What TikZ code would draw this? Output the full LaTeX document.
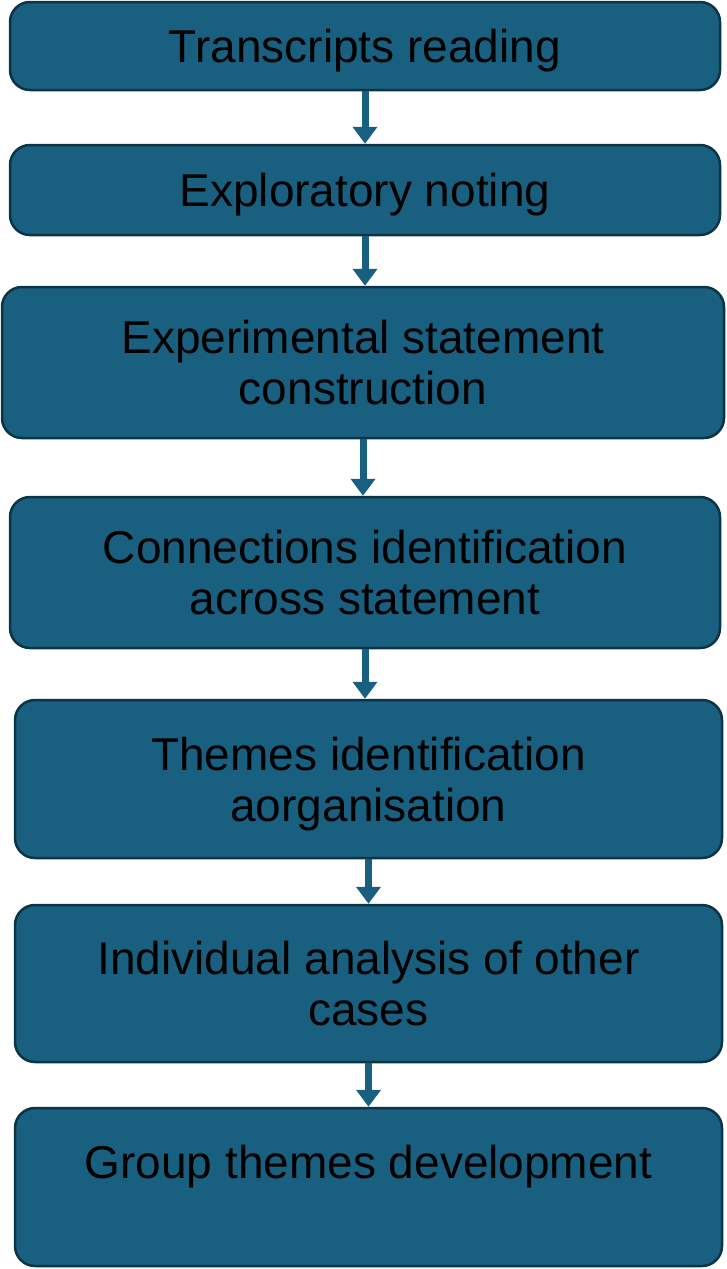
\documentclass[tikz,border=0pt]{standalone}
\usepackage{fontspec}
\setmainfont{Liberation Sans}
\usetikzlibrary{arrows.meta}

\definecolor{stagefill}{RGB}{25,96,128}
\definecolor{stageline}{RGB}{12,52,70}

\begin{document}
\begin{tikzpicture}[x=1pt,y=-1pt,>={Triangle[width=24pt,length=17pt]},
  stage/.style={draw=stageline,line width=2.5pt,fill=stagefill,rounded corners=20pt,
    align=center,text=black,font=\fontsize{46}{51}\selectfont,inner sep=0pt,text depth=0pt},
  flow/.style={->,draw=stagefill,line width=7pt}]
  \useasboundingbox (0,0) rectangle (727,1269);
  \node[stage,minimum width=710pt,minimum height=88pt] (read) at (365,46) {Transcripts reading};
  \node[stage,minimum width=710pt,minimum height=90pt] (note) at (365,190) {Exploratory noting};
  \node[stage,minimum width=722pt,minimum height=151pt] (stmt) at (363,362.5)
    {Experimental statement\\construction};
  \node[stage,minimum width=710pt,minimum height=151pt] (conn) at (365,572.5)
    {Connections identification\\across statement};
  \node[stage,minimum width=707pt,minimum height=158pt] (theme) at (368.5,779)
    {Themes identification\\aorganisation};
  \node[stage,minimum width=707pt,minimum height=157pt] (indiv) at (368.5,983.5)
    {Individual analysis of other\\cases};
  \node[stage,minimum width=707pt,minimum height=158pt] (group) at (368.5,1187)
    {Group themes development\\\strut};
  % arrows between stages
  \foreach \a/\b in {read/note,note/stmt,stmt/conn,conn/theme,theme/indiv,indiv/group}
    \draw[flow] (\a.south) -- (\a.south |- \b.north);
\end{tikzpicture}
\end{document}
